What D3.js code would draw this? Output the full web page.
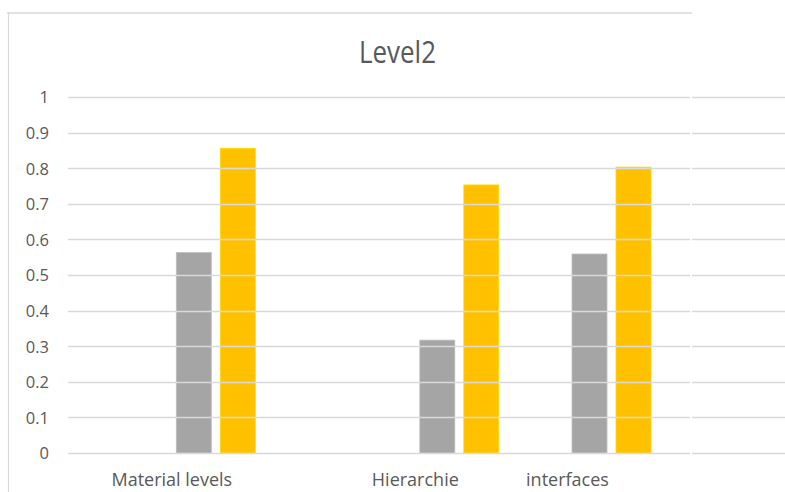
<!DOCTYPE html>
<html>
<head>
<meta charset="utf-8">
<script src="https://cdn.jsdelivr.net/npm/d3@7"></script>
<style>
  html, body { margin: 0; padding: 0; background: #fff; }
  svg { display: block; font-family: "Open Sans", Lato, sans-serif; }
</style>
</head>
<body>
<svg id="chart" width="785" height="492"></svg>
<script>
// Chart data
const title = "Level2";
const categories = ["Material levels", "Hierarchie", "interfaces"];
const seriesNames = ["Series1", "Series2", "Series3", "Series4"];
const series1 = [null, null, null];
const series2 = [null, null, null];
const series3 = [0.563, 0.317, 0.559];
const series4 = [0.856, 0.753, 0.803];
const yTicks = [0, 0.1, 0.2, 0.3, 0.4, 0.5, 0.6, 0.7, 0.8, 0.9, 1];

const seriesValues = [series1, series2, series3, series4];
const seriesColors = ["#5B9BD5", "#ED7D31", "#A5A5A5", "#FFC000"];

const svg = d3.select("#chart");
const W = 785, H = 492;
const plot = { left: 68, right: 690, top: 97, bottom: 453 };

// Category axis: categories sit on a point scale of evenly spaced slots
const slotOf = { "Material levels": 0, "Hierarchie": 8, "interfaces": 13 };
const slots = d3.range(14);
const xSlot = d3.scalePoint().domain(slots).range([171.8, 567.5]);
const xCat = c => xSlot(slotOf[c]);

// Series within a category
const barStep = 44, barW = 35;
const groupW = seriesNames.length * barStep - (barStep - barW);
const x1 = d3.scaleBand()
  .domain(seriesNames)
  .range([-groupW / 2, groupW / 2])
  .paddingInner((barStep - barW) / barStep)
  .paddingOuter(0);

const y = d3.scaleLinear().domain([0, 1]).range([plot.bottom, plot.top]);

// Chart frame (left and top edges)
svg.append("line").attr("x1", 8.5).attr("x2", 8.5).attr("y1", 12.5).attr("y2", H)
  .attr("stroke", "#D9D9D9").attr("stroke-width", 1.2);
svg.append("line").attr("x1", 7).attr("x2", 692).attr("y1", 13).attr("y2", 13)
  .attr("stroke", "#D9D9D9").attr("stroke-width", 1.5);

// Title
svg.append("text")
  .attr("x", 397.5).attr("y", 63)
  .attr("text-anchor", "middle")
  .attr("font-size", 31)
  .attr("textLength", 77)
  .attr("lengthAdjust", "spacingAndGlyphs")
  .attr("fill", "#595959")
  .text(title);

// Bars
const bars = [];
categories.forEach((c, i) => {
  seriesNames.forEach((s, j) => {
    const v = seriesValues[j][i];
    if (v != null) bars.push({ c, s, v, color: seriesColors[j] });
  });
});
svg.append("g").selectAll("rect").data(bars).join("rect")
  .attr("x", d => xCat(d.c) + x1(d.s))
  .attr("width", x1.bandwidth())
  .attr("y", d => y(d.v))
  .attr("height", d => y(0) - y(d.v))
  .attr("fill", d => d.color)
  .attr("stroke", d => d3.color(d.color).brighter(0.4))
  .attr("stroke-width", 0.8);

// Value axis labels
const yAxis = d3.axisLeft(y).tickValues(yTicks).tickSize(0).tickPadding(0)
  .tickFormat(d3.format("~g"));
const gy = svg.append("g").attr("transform", `translate(49,0)`).call(yAxis);
gy.select(".domain").remove();
gy.selectAll("text").attr("font-size", 16.5).attr("fill", "#595959")
  .attr("font-family", "'Open Sans', sans-serif").attr("dy", "0.36em");

// Horizontal gridlines, drawn over the bars
const grid = svg.append("g");
[[plot.left, plot.right], [692, W]].forEach(([a, b]) => {
  grid.append("g").selectAll("line").data(yTicks).join("line")
    .attr("x1", a).attr("x2", b)
    .attr("y1", d => Math.round(y(d)) + 0.5)
    .attr("y2", d => Math.round(y(d)) + 0.5)
    .attr("stroke", "#D9D9D9")
    .attr("stroke-width", 1.5);
});

// Category labels
svg.append("g").selectAll("text").data(categories).join("text")
  .attr("x", d => xCat(d))
  .attr("y", 486)
  .attr("text-anchor", "middle")
  .attr("font-size", 18)
  .attr("fill", "#595959")
  .text(d => d);
</script>
</body>
</html>
